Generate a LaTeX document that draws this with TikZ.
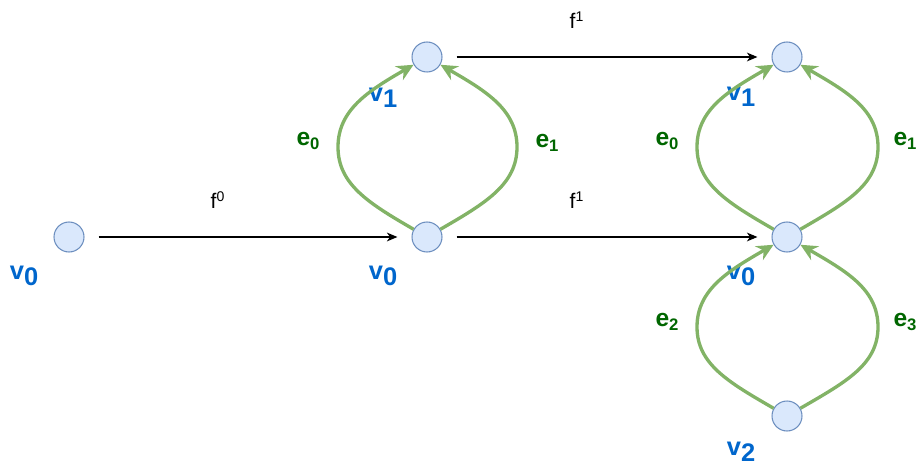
\documentclass[tikz,border=0pt]{standalone}
\usepackage{fontspec}
\setmainfont{Liberation Sans}
\usetikzlibrary{arrows.meta}
\definecolor{vfill}{HTML}{DAE8FC}
\definecolor{vdraw}{HTML}{6C8EBF}
\definecolor{edgegreen}{HTML}{82B366}
\definecolor{vblue}{HTML}{0066CC}
\definecolor{egreen}{HTML}{006600}
\newcommand{\vname}[1]{v\raisebox{-3.3pt}{#1}}
\newcommand{\ename}[1]{e\raisebox{-2pt}{\fontsize{9.5}{10}\selectfont #1}}
\tikzset{
  vertex/.style={circle, draw=vdraw, fill=vfill, line width=0.6pt, minimum size=0.6cm, inner sep=0pt},
  vlabel/.style={text=vblue, font=\fontsize{14.5}{17}\selectfont\bfseries, inner sep=0pt},
  elabel/.style={text=egreen, font=\fontsize{14}{16}\selectfont\bfseries, inner sep=0pt},
  flabel/.style={font=\fontsize{12}{14}\selectfont, inner sep=0pt},
  map/.style={draw=black, line width=0.6pt, -{Stealth[length=6pt, width=5pt, inset=1.8pt]}, shorten <=8pt, shorten >=8pt},
  loopedge/.style={draw=edgegreen, line width=1.9pt, -{Stealth[length=9.5pt, width=9pt, inset=3pt]}},
  bendout/.style={out looseness=1.2, in looseness=0.85},
  bendin/.style={out looseness=0.85, in looseness=1.2}
}

\begin{document}
\begin{tikzpicture}[x=0.02cm, y=0.02cm]
    \useasboundingbox (0,0) rectangle (919,467);

    % vertices
    \node[vertex] (A0) at (69,230) {};
    \node[vertex] (B0) at (427,230) {};
    \node[vertex] (B1) at (427,410) {};
    \node[vertex] (C0) at (787,230) {};
    \node[vertex] (C1) at (787,410) {};
    \node[vertex] (C2) at (787,51) {};

    % widest points of the loops
    \coordinate (Bw) at (338,320);
    \coordinate (Be) at (517,320);
    \coordinate (Cw) at (697,320);
    \coordinate (Ce) at (878,320);
    \coordinate (Dw) at (697,140);
    \coordinate (De) at (878,140);

    % vertex names
    \node[vlabel] (lA0) at (24,191) {\vname{0}};
    \node[vlabel] (lB0) at (383,191) {\vname{0}};
    \node[vlabel] (lB1) at (383,369) {\vname{1}};
    \node[vlabel] (lC0) at (741,191) {\vname{0}};
    \node[vlabel] (lC1) at (741,370) {\vname{1}};
    \node[vlabel] (lC2) at (741,15) {\vname{2}};

    % edge names
    \node[elabel] (eB0) at (308,326) {\ename{0}};
    \node[elabel] (eB1) at (547,324) {\ename{1}};
    \node[elabel] (eC0) at (667,326) {\ename{0}};
    \node[elabel] (eC1) at (905,326) {\ename{1}};
    \node[elabel] (eC2) at (667,145) {\ename{2}};
    \node[elabel] (eC3) at (905,145) {\ename{3}};

    % maps
    \node[flabel] (f0) at (218,267) {f\textsuperscript{0}};
    \node[flabel] (f1top) at (577,447) {f\textsuperscript{1}};
    \node[flabel] (f1mid) at (577,267) {f\textsuperscript{1}};
    \draw[map] (A0) -- (B0);
    \draw[map] (B0) -- (C0);
    \draw[map] (B1) -- (C1);

    % loops
    \draw[loopedge] (B0) to[out=150, in=270, bendout] (Bw) to[out=90, in=210, bendin] (B1);
    \draw[loopedge] (B0) to[out=30, in=270, bendout] (Be) to[out=90, in=330, bendin] (B1);
    \draw[loopedge] (C0) to[out=150, in=270, bendout] (Cw) to[out=90, in=210, bendin] (C1);
    \draw[loopedge] (C0) to[out=30, in=270, bendout] (Ce) to[out=90, in=330, bendin] (C1);
    \draw[loopedge] (C2) to[out=150, in=270, bendout] (Dw) to[out=90, in=210, bendin] (C0);
    \draw[loopedge] (C2) to[out=30, in=270, bendout] (De) to[out=90, in=330, bendin] (C0);
\end{tikzpicture}
\end{document}
